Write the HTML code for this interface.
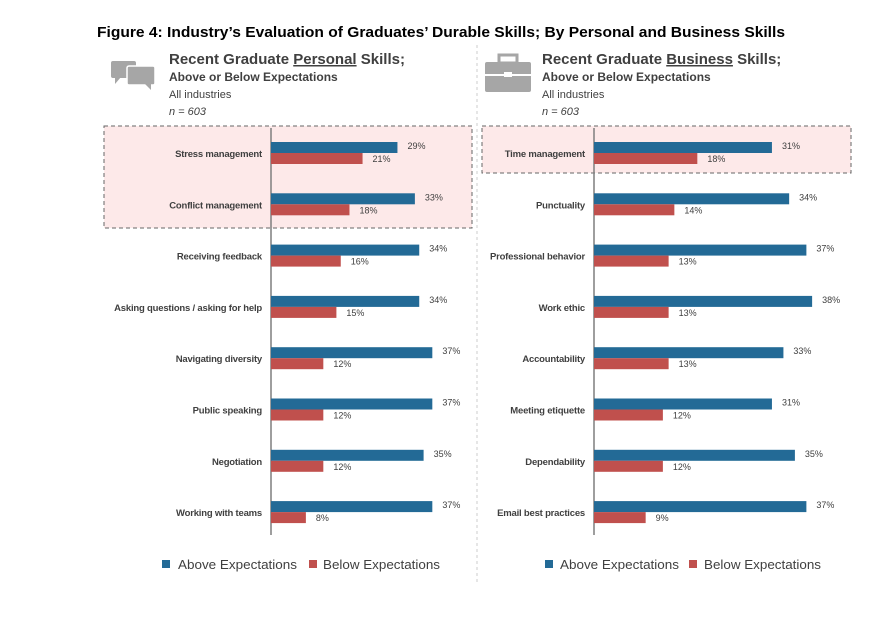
<!DOCTYPE html>
<html><head><meta charset="utf-8"><style>
body{margin:0;background:#fff;width:870px;height:627px;overflow:hidden;font-family:"Liberation Sans",sans-serif}
svg{position:absolute;left:0;top:0}
</style></head><body>
<svg id="c" width="870" height="627">
<text x="97" y="37" textLength="688" lengthAdjust="spacingAndGlyphs" font-size="15" font-weight="bold" fill="#000">Figure 4: Industry’s Evaluation of Graduates’ Durable Skills; By Personal and Business Skills</text>
<line x1="477" y1="45" x2="477" y2="582" stroke="#ccc" stroke-dasharray="3,3"/>
<g fill="#a6a6a6">
<rect x="111" y="61" width="25" height="17" rx="2"/><polygon points="115,77 121,77 115,84"/>
<rect x="127" y="66" width="28" height="19" rx="2" stroke="#fff" stroke-width="1.5"/><polygon points="145,84 151,84 151,90"/>
</g>
<g fill="#a6a6a6">
<rect x="485" y="62" width="46" height="30" rx="2"/><rect x="499" y="55" width="18" height="8" fill="none" stroke="#a6a6a6" stroke-width="3"/>
<rect x="485" y="74" width="46" height="2" fill="#fff"/><rect x="504" y="72" width="8" height="5" fill="#fff"/>
</g>
<g font-family="Liberation Sans,sans-serif" fill="#404040">
<text x="169" y="64" font-size="15" font-weight="bold">Recent Graduate <tspan text-decoration="underline">Personal</tspan> Skills;</text>
<text x="169" y="81" font-size="12" font-weight="bold">Above or Below Expectations</text>
<text x="169" y="98" font-size="11">All industries</text>
<text x="169" y="115" font-size="11" font-style="italic">n = 603</text>
<text x="542" y="64" font-size="15" font-weight="bold">Recent Graduate <tspan text-decoration="underline">Business</tspan> Skills;</text>
<text x="542" y="81" font-size="12" font-weight="bold">Above or Below Expectations</text>
<text x="542" y="98" font-size="11">All industries</text>
<text x="542" y="115" font-size="11" font-style="italic">n = 603</text>
</g>
<rect x="104" y="126" width="368" height="102" fill="#fde9e9" stroke="#666" stroke-dasharray="4,3"/>
<rect x="482" y="126" width="369" height="47" fill="#fde9e9" stroke="#666" stroke-dasharray="4,3"/>
<g id="plots"></g>
<g font-size="13" fill="#404040">
<rect x="162" y="560" width="8" height="8" fill="#236a96"/><text x="178" y="569" textLength="119" lengthAdjust="spacingAndGlyphs">Above Expectations</text>
<rect x="309" y="560" width="8" height="8" fill="#c0504d"/><text x="323" y="569" textLength="117" lengthAdjust="spacingAndGlyphs">Below Expectations</text>
</g>
<g font-size="13" fill="#404040">
<rect x="545" y="560" width="8" height="8" fill="#236a96"/><text x="560" y="569" textLength="119" lengthAdjust="spacingAndGlyphs">Above Expectations</text>
<rect x="689" y="560" width="8" height="8" fill="#c0504d"/><text x="704" y="569" textLength="117" lengthAdjust="spacingAndGlyphs">Below Expectations</text>
</g>
</svg>
<script>
const personalCats=["Stress management","Conflict management","Receiving feedback","Asking questions / asking for help","Navigating diversity","Public speaking","Negotiation","Working with teams"];
const personalAbove=[29,33,34,34,37,37,35,37];
const personalBelow=[21,18,16,15,12,12,12,8];
const businessCats=["Time management","Punctuality","Professional behavior","Work ethic","Accountability","Meeting etiquette","Dependability","Email best practices"];
const businessAbove=[31,34,37,38,33,31,35,37];
const businessBelow=[18,14,13,13,13,12,12,9];
const NS="http://www.w3.org/2000/svg";
const g=document.getElementById('plots');
function mk(t,a){const e=document.createElementNS(NS,t);for(const k in a)e.setAttribute(k,a[k]);return e;}
function panel(cats,above,below,x0,pxPer,name){
  const yAt=i=>153+i*51.3;
  const xs=v=>x0+v*pxPer;
  const ax=mk('line',{x1:x0,y1:128,x2:x0,y2:535,stroke:'#7f7f7f','stroke-width':1.5});
  
  
  g.appendChild(ax);
  cats.forEach((c,i)=>{
    const y=yAt(i);
    const t=mk('text',{x:x0-9,y:y+4,'text-anchor':'end','font-size':9.5,'font-weight':'bold',fill:'#404040','letter-spacing':'-0.2'});
    t.textContent=c;
    
    
    g.appendChild(t);
    const b1=mk('rect',{x:x0,y:y-11,width:xs(above[i])-x0,height:11,fill:'#236a96'});
    
    
    g.appendChild(b1);
    const b2=mk('rect',{x:x0,y:y,width:xs(below[i])-x0,height:11,fill:'#c0504d'});
    
    
    g.appendChild(b2);
    const l1=mk('text',{x:xs(above[i])+10,y:y-4,'font-size':9,fill:'#404040'});
    l1.textContent=above[i]+'%';
    
    
    g.appendChild(l1);
    const l2=mk('text',{x:xs(below[i])+10,y:y+9,'font-size':9,fill:'#404040'});
    l2.textContent=below[i]+'%';
    
    
    g.appendChild(l2);
  });
}
panel(personalCats,personalAbove,personalBelow,271,4.36,'personal');
panel(businessCats,businessAbove,businessBelow,594,5.74,'business');
</script>
</body></html>
